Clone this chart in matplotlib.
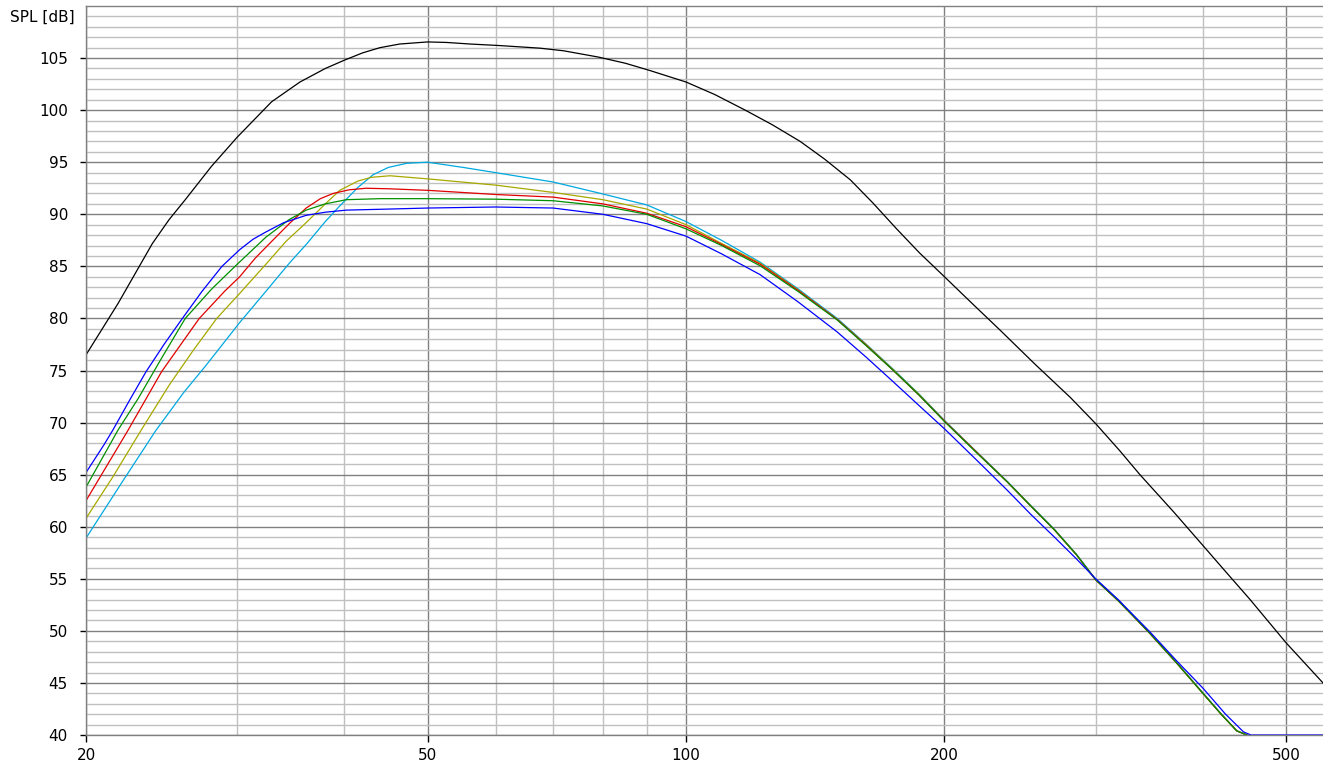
import matplotlib
matplotlib.use("Agg")
import matplotlib.pyplot as plt
from matplotlib.ticker import FixedLocator, FixedFormatter, NullFormatter


# frequency response curves (Hz, dB SPL)
black_f = [20, 21, 21.8, 23, 23.9, 25, 26.1, 28, 30, 32.9, 35.5, 38, 40, 42, 44, 46.4, 50,
           52.6, 56, 60.7, 67.6, 72, 79, 85, 90.8, 100, 108, 117.2, 126, 135.8, 145, 155.4,
           165, 175.9, 187, 200, 215, 232, 255, 280.4, 300, 320, 337.8, 370, 400, 425, 454,
           500, 552]
black_db = [76.5, 79.3, 81.45, 84.8, 87.2, 89.5, 91.4, 94.6, 97.4, 100.8, 102.7, 104.0, 104.8,
            105.5, 106.0, 106.35, 106.55, 106.5, 106.35, 106.2, 105.95, 105.7, 105.1, 104.5,
            103.8, 102.7, 101.5, 100.0, 98.6, 97.0, 95.3, 93.3, 91.1, 88.6, 86.3, 84.0, 81.5,
            78.9, 75.6, 72.4, 69.9, 67.3, 65.0, 61.4, 58.2, 55.7, 53.0, 48.85, 45.0]

blue_f = [20, 21, 21.5, 22.5, 23.5, 24.7, 25.9, 27.3, 28.8, 30.2, 31.3, 32.4, 34, 36.1, 38,
          40.2, 45, 50, 60, 70, 80, 90, 100, 110, 122, 135, 150, 162, 174.4, 187, 200, 218,
          236.7, 252, 268.6, 285, 300, 318.7, 332, 347, 372, 400, 425, 446, 455, 552]
blue_db = [65.2, 67.9, 69.3, 72.2, 74.9, 77.6, 80.0, 82.6, 85.0, 86.6, 87.6, 88.3, 89.2, 89.9,
           90.2, 90.4, 90.5, 90.6, 90.7, 90.6, 90.0, 89.1, 87.9, 86.2, 84.2, 81.6, 78.7, 76.3,
           73.9, 71.6, 69.4, 66.4, 63.5, 61.2, 59.0, 56.9, 55.0, 53.0, 51.5, 49.9, 47.2, 44.5,
           42.0, 40.3, 40.0, 40.0]

green_f = [20, 21.8, 23, 24.5, 26.1, 28, 30, 32.4, 34.5, 36.1, 38, 40.2, 44, 50, 60, 70, 80,
           90, 100, 110, 122, 135, 150, 162, 174.4, 187, 200, 218, 236.7, 252, 268.6, 285,
           300, 318.7, 332, 347, 372, 400, 420, 438, 450]
green_db = [63.8, 69.3, 72.3, 76.2, 80.0, 82.8, 85.2, 87.8, 89.5, 90.4, 91.0, 91.4, 91.5,
            91.5, 91.45, 91.3, 90.8, 90.0, 88.6, 87.0, 85.05, 82.6, 79.85, 77.4, 75.0, 72.6,
            70.1, 67.1, 64.3, 62.0, 59.7, 57.3, 54.9, 52.9, 51.4, 49.75, 47.0, 44.0, 42.0,
            40.4, 40.0]

red_f = [20, 22.4, 24.5, 27.1, 29, 30.2, 31.5, 33.0, 34.5, 36.1, 37.5, 38.8, 40.5, 42.4, 45,
         50, 60, 70, 80, 90, 100, 110, 122, 135, 150, 162, 174.4, 187, 200, 218, 236.7, 252,
         268.6, 285, 300, 318.7, 332, 347, 372, 400, 420, 438, 450]
red_db = [62.5, 69.3, 74.9, 80.0, 82.6, 84.0, 85.8, 87.5, 89.1, 90.6, 91.5, 92.0, 92.35,
          92.5, 92.45, 92.3, 91.9, 91.65, 91.0, 90.1, 88.8, 87.1, 85.2, 82.7, 79.9, 77.45,
          75.0, 72.6, 70.15, 67.15, 64.3, 62.0, 59.7, 57.3, 54.9, 52.9, 51.4, 49.75, 47.0,
          44.0, 42.0, 40.4, 40.0]

olive_f = [20, 21.5, 23.2, 25, 26.7, 28.4, 30.2, 32.4, 34.2, 36.1, 38, 39.5, 41.5, 43,
           45.2, 50, 60, 70, 80, 90, 100, 110, 122, 135, 150, 162, 174.4, 187, 200, 218,
           236.7, 252, 268.6, 285, 300, 318.7, 332, 347, 372, 400, 420, 438, 450]
olive_db = [60.8, 64.8, 69.3, 73.6, 77.0, 80.0, 82.4, 85.2, 87.4, 89.2, 91.0, 92.3, 93.2,
            93.55, 93.7, 93.4, 92.8, 92.1, 91.4, 90.5, 89.0, 87.2, 85.3, 82.75, 79.9, 77.5,
            75.05, 72.65, 70.15, 67.15, 64.3, 62.0, 59.7, 57.3, 54.9, 52.9, 51.4, 49.75,
            47.0, 44.0, 42.0, 40.4, 40.0]

cyan_f = [20, 22, 24.1, 26, 27.6, 30.2, 32.4, 34.5, 36.1, 38, 39.5, 41.5, 43.2, 45, 47.3,
          50, 55, 60, 70, 80, 90, 100, 110, 122, 135, 150, 162, 174.4, 187, 200, 218, 236.7,
          252, 268.6, 285, 300, 318.7, 332, 347, 372, 400, 420, 438, 450]
cyan_db = [58.9, 64.2, 69.2, 72.9, 75.5, 79.6, 82.6, 85.3, 87.1, 89.3, 90.8, 92.6, 93.8,
           94.5, 94.9, 95.0, 94.5, 94.0, 93.1, 91.95, 90.9, 89.3, 87.5, 85.4, 82.85, 80.0,
           77.55, 75.1, 72.7, 70.2, 67.2, 64.35, 62.05, 59.75, 57.35, 54.95, 52.95, 51.45,
           49.8, 47.05, 44.05, 42.05, 40.4, 40.0]

x_major = [20, 50, 100, 200, 500]
x_minor = [30, 40, 60, 70, 80, 90, 300, 400]
y_major = list(range(40, 110, 5))
y_minor = [v for v in range(41, 111) if v % 5]


plt.rcParams["font.family"] = ["DejaVu Sans"]
fig = plt.figure(figsize=(13.23, 7.72), dpi=100)
ax = fig.add_axes([86 / 1323, 1 - 735 / 772, 1 - 86 / 1323, (735 - 6) / 772])

ax.set_xscale("log")
ax.set_xlim(20, 552)
ax.set_ylim(40, 110)

ax.xaxis.set_major_locator(FixedLocator(x_major))
ax.xaxis.set_minor_locator(FixedLocator(x_minor))
ax.xaxis.set_major_formatter(FixedFormatter([str(v) for v in x_major]))
ax.xaxis.set_minor_formatter(NullFormatter())
ax.yaxis.set_major_locator(FixedLocator(y_major))
ax.yaxis.set_minor_locator(FixedLocator(y_minor))

ax.grid(which="major", color="#808080", linewidth=1.0)
ax.grid(which="minor", color="#c0c0c0", linewidth=1.0)
ax.set_axisbelow(True)

ax.tick_params(which="minor", length=0)
ax.tick_params(axis="y", which="major", length=4, width=1, color="black",
               labelsize=11, pad=9)
ax.tick_params(axis="x", which="major", length=5, width=1, color="black",
               labelsize=11, pad=4)

for side in ["left", "bottom", "top"]:
    ax.spines[side].set_color("#808080")
    ax.spines[side].set_linewidth(1.0)
ax.spines["right"].set_visible(False)

lw = 0.9
ax.plot(black_f, black_db, color="black", lw=lw)
ax.plot(cyan_f, cyan_db, color="#00a8e0", lw=lw)
ax.plot(olive_f, olive_db, color="#a8a800", lw=lw)
ax.plot(red_f, red_db, color="#e00000", lw=lw)
ax.plot(green_f, green_db, color="#009000", lw=lw)
ax.plot(blue_f, blue_db, color="#0000ff", lw=lw)

fig.text(10 / 1323, 1 - 17 / 772, "SPL [dB]", fontsize=11, va="center", ha="left")

fig.savefig("out.png", dpi=100)
